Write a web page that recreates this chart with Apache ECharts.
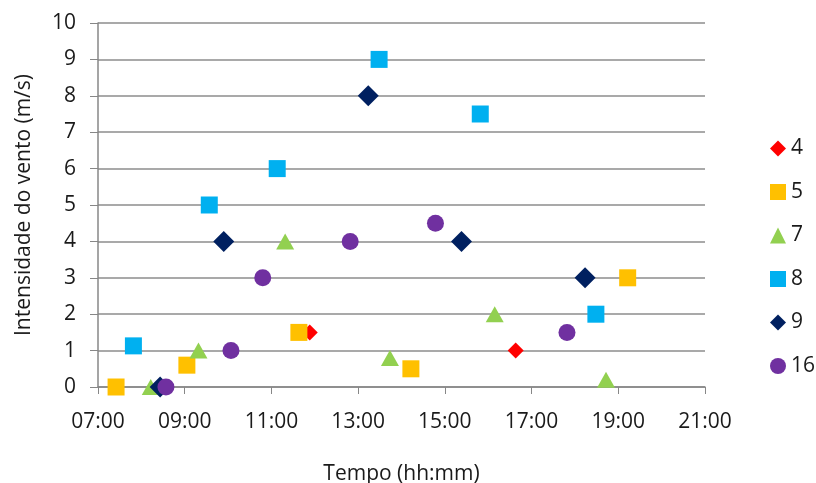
<!DOCTYPE html>
<html><head><meta charset="utf-8">
<script src="https://cdn.jsdelivr.net/npm/echarts@6/dist/echarts.min.js"></script>
<style>html,body{margin:0;padding:0;background:#fff}#c{width:816px;height:483px}</style>
</head><body><div id="c"></div>
<script>
var seriesNames = ['4', '5', '7', '8', '9', '16'];
var s4_time = ['11:53', '16:38'];
var s4_val = [1.5, 1.0];
var s5_time = ['07:25', '09:03', '11:38', '14:13', '19:13'];
var s5_val = [0, 0.6, 1.5, 0.5, 3];
var s7_time = ['08:13', '09:19', '11:19', '13:44', '16:09', '18:43'];
var s7_val = [0, 1, 4, 0.8, 2, 0.2];
var s8_time = ['07:49', '09:34', '11:08', '13:29', '15:49', '18:29'];
var s8_val = [1.13, 5, 6, 9, 7.5, 2];
var s9_time = ['08:26', '09:54', '13:14', '15:23', '18:14'];
var s9_val = [0, 4, 8, 4, 3];
var s16_time = ['08:34', '10:04', '10:48', '12:49', '14:47', '17:49'];
var s16_val = [0, 1, 3, 4, 4.5, 1.5];
var xTicks = ['07:00', '09:00', '11:00', '13:00', '15:00', '17:00', '19:00', '21:00'];

function toH(t){var p=t.split(':');return +p[0]+(+p[1])/60;}
function pts(ts,vs){return ts.map(function(t,i){return [toH(t),vs[i]];});}
function fmt(v){var h=Math.floor(v+1e-6),m=Math.round((v-h)*60);return (h<10?'0':'')+h+':'+(m<10?'0':'')+m;}

var times=[s4_time,s5_time,s7_time,s8_time,s9_time,s16_time];
var vals=[s4_val,s5_val,s7_val,s8_val,s9_val,s16_val];
var colors=['#FF0000','#FFC000','#92D050','#00B0F0','#002060','#7030A0'];
var symbols=['diamond','rect','triangle','rect','diamond','circle'];
var sizes=[[16,16],[17,17],[18,16],[17,17],[21,21],[17,17]];
var font='"Open Sans", "Liberation Sans", sans-serif';
var txt='#1a1a1a';

var chart=echarts.init(document.getElementById('c'),null,{renderer:'canvas'});
chart.setOption({
  animation:false,
  backgroundColor:'#fff',
  grid:{left:98,right:111,top:23,bottom:96,containLabel:false,outerBoundsMode:'none'},
  xAxis:{type:'value',min:7,max:21,interval:2,
    name:'Tempo (hh:mm)',nameLocation:'middle',nameGap:77,
    nameTextStyle:{fontFamily:font,fontSize:21,color:txt},
    axisLine:{show:true,lineStyle:{color:'#878787',width:1.5}},
    axisTick:{show:true,length:7,lineStyle:{color:'#878787'}},
    axisLabel:{fontFamily:font,fontSize:21,color:txt,margin:25,
      formatter:function(v){var i=Math.round((v-7)/2);return xTicks[i]||fmt(v);}},
    splitLine:{show:false}},
  yAxis:{type:'value',min:0,max:10,interval:1,
    name:'Intensidade do vento (m/s)',nameLocation:'middle',nameGap:63,
    nameTextStyle:{fontFamily:font,fontSize:21,color:txt},
    axisLine:{show:true,lineStyle:{color:'#878787',width:1.5}},
    axisTick:{show:true,length:8,lineStyle:{color:'#878787'}},
    axisLabel:{fontFamily:font,fontSize:21,color:txt,margin:22},
    splitLine:{show:true,lineStyle:{color:'#8c8c8c',width:1.5}}},
  legend:{orient:'vertical',left:765,top:133,itemGap:22.5,itemWidth:16,itemHeight:16,
    textStyle:{fontFamily:font,fontSize:21,color:txt},
    data:seriesNames.map(function(n,i){return {name:n,icon:symbols[i]};})},
  series:seriesNames.map(function(n,i){
    return {name:n,type:'scatter',data:pts(times[i],vals[i]),symbol:symbols[i],
      symbolSize:sizes[i],itemStyle:{color:colors[i],opacity:1},z:2+i};
  })
});
</script></body></html>
